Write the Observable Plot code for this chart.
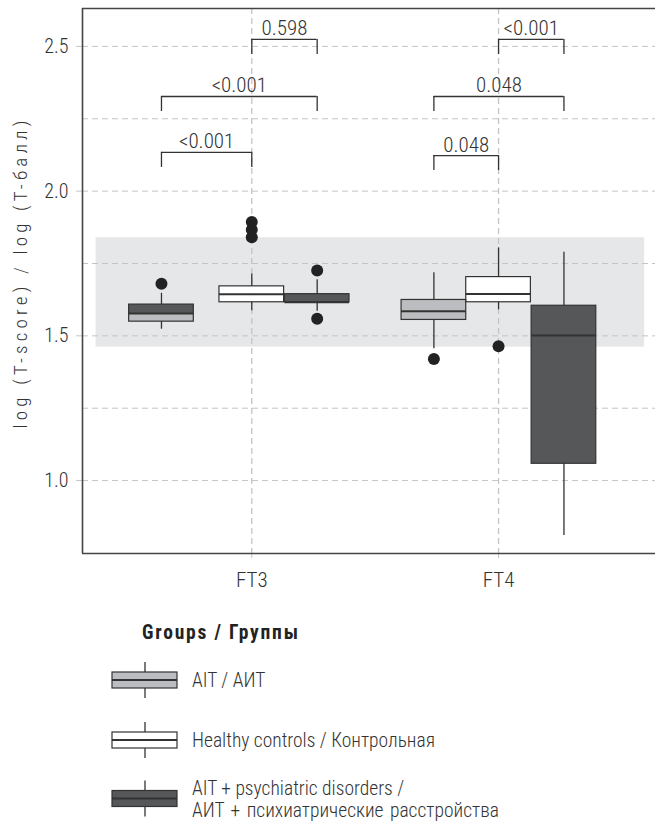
<!DOCTYPE html>
<html><head><meta charset="utf-8">
<script src="https://cdn.jsdelivr.net/npm/d3@7"></script>
<script src="https://cdn.jsdelivr.net/npm/@observablehq/plot@0.6"></script>
<style>
body{margin:0;background:#fff;}
#chart{width:655px;}
#chart svg{display:block;}
</style></head><body><div id="chart"></div>
<script>
// ---- data ----
const categories = ["FT3", "FT4"];
const groups = ["AIT", "HC", "PD"];
const groupLabels = [["AIT / АИТ"], ["Healthy controls / Контрольная"], ["AIT + psychiatric disorders /", "АИТ + психиатрические расстройства"]];
const legendTitle = "Groups / Группы";
const yLabel = "log (T-score) / log (T-балл)";

const boxCategory = ["FT3", "FT3", "FT3", "FT4", "FT4", "FT4"];
const boxGroup    = ["AIT", "HC", "PD", "AIT", "HC", "PD"];
const whiskerLow  = [1.523, 1.587, 1.585, 1.455, 1.590, 0.810];
const q1          = [1.549, 1.616, 1.616, 1.555, 1.616, 1.058];
const median      = [1.577, 1.644, 1.616, 1.585, 1.645, 1.501];
const q3          = [1.608, 1.671, 1.644, 1.624, 1.703, 1.604];
const whiskerHigh = [1.647, 1.714, 1.694, 1.718, 1.804, 1.789];

const outlierCategory = ["FT3", "FT3", "FT3", "FT3", "FT3", "FT3", "FT4", "FT4"];
const outlierGroup    = ["AIT", "HC", "HC", "HC", "PD", "PD", "AIT", "HC"];
const outlierValue    = [1.680, 1.893, 1.867, 1.841, 1.726, 1.559, 1.420, 1.464];

const refRange = [1.461, 1.839];

const cmpCategory = ["FT3", "FT3", "FT3", "FT4", "FT4", "FT4"];
const cmpFrom     = ["HC", "AIT", "AIT", "HC", "AIT", "AIT"];
const cmpTo       = ["PD", "PD", "HC", "PD", "PD", "HC"];
const cmpLevel    = [2.524, 2.327, 2.134, 2.524, 2.327, 2.123];
const cmpLabel    = ["0.598", "<0.001", "<0.001", "<0.001", "0.048", "0.048"];

const yTicks = [1.0, 1.5, 2.0, 2.5];
const yGrid  = [1.0, 1.25, 1.5, 1.75, 2.0, 2.25, 2.5];

// ---- layout / style ----
const FONT = '"Roboto Condensed","Liberation Sans Narrow","DejaVu Sans Condensed",sans-serif';
const fills = {AIT: "#bcbdc0", HC: "#ffffff", PD: "#565759"};
const dodge = {AIT: -0.262, HC: 0.0, PD: 0.265};
const pos = (c, g) => categories.indexOf(c) + 1 + dodge[g] + (c === "FT3" && g === "AIT" ? -0.104 : 0);
const halfW = 0.131;
const legLen = 0.052;
const xDomain = [0.314, 2.636];
const yDomain = [0.748, 2.631];
const bandX = [0.369, 2.592];
const ink = "#333";
const gridColor = "#c4c4c4";
const MAIN_H = 602;

const boxes = boxCategory.map((c, i) => ({c, g: boxGroup[i], lo: whiskerLow[i], q1: q1[i], med: median[i], q3: q3[i], hi: whiskerHigh[i]}));
const outliers = outlierValue.map((v, i) => ({c: outlierCategory[i], g: outlierGroup[i], v}));
const cmps = cmpLabel.map((l, i) => ({c: cmpCategory[i], a: cmpFrom[i], b: cmpTo[i], y: cmpLevel[i], l}));

const plot = Plot.plot({
  width: 655, height: MAIN_H,
  marginLeft: 82, marginRight: 0, marginTop: 8, marginBottom: MAIN_H - 553,
  style: {fontFamily: FONT, fontSize: "20px", fontWeight: 300, color: ink, background: "#fff"},
  x: {domain: xDomain},
  y: {domain: yDomain},
  marks: [
    Plot.rect([refRange], {x1: bandX[0], x2: bandX[1], y1: d => d[0], y2: d => d[1], fill: "#e6e7e8"}),
    Plot.ruleY(yGrid, {stroke: gridColor, strokeDasharray: "6,4", strokeWidth: 1}),
    Plot.ruleX([1, 2], {stroke: gridColor, strokeDasharray: "6,4", strokeWidth: 1.3}),
    Plot.axisY({ticks: yTicks, tickFormat: d3.format(".1f"), tickSize: 6, tickPadding: 8, stroke: gridColor, fill: ink,
      label: null, fontSize: "20px"}),
    Plot.axisX({ticks: [1, 2], tickFormat: d => categories[d - 1], tickSize: 5, tickPadding: 14, stroke: gridColor, fill: ink, label: null, fontSize: "21px"}),
    // whiskers
    Plot.ruleX(boxes, {x: d => pos(d.c, d.g), y1: "lo", y2: "hi", stroke: ink, strokeWidth: 1.3}),
    // box halves
    Plot.rect(boxes, {x1: d => pos(d.c, d.g) - halfW, x2: d => pos(d.c, d.g) + halfW, y1: "q1", y2: "med", fill: d => fills[d.g]}),
    Plot.rect(boxes, {x1: d => pos(d.c, d.g) - halfW, x2: d => pos(d.c, d.g) + halfW, y1: "med", y2: "q3",
      fill: d => (d.c === "FT3" && d.g === "AIT") ? fills.PD : fills[d.g]}),
    Plot.rect(boxes, {x1: d => pos(d.c, d.g) - halfW, x2: d => pos(d.c, d.g) + halfW, y1: "q1", y2: "q3", fill: "none", stroke: ink, strokeWidth: 1.2}),
    Plot.ruleY(boxes, {x1: d => pos(d.c, d.g) - halfW, x2: d => pos(d.c, d.g) + halfW, y: "med", stroke: ink, strokeWidth: 2}),
    // outliers
    Plot.dot(outliers, {x: d => pos(d.c, d.g), y: "v", r: 6, fill: "#222", stroke: "none"}),
    // brackets
    Plot.ruleY(cmps, {x1: d => pos(d.c, d.a), x2: d => pos(d.c, d.b), y: "y", stroke: ink, strokeWidth: 1.3}),
    Plot.ruleX(cmps, {x: d => pos(d.c, d.a), y1: "y", y2: d => d.y - legLen, stroke: ink, strokeWidth: 1.3}),
    Plot.ruleX(cmps, {x: d => pos(d.c, d.b), y1: "y", y2: d => d.y - legLen, stroke: ink, strokeWidth: 1.3}),
    Plot.text(cmps, {x: d => (pos(d.c, d.a) + pos(d.c, d.b)) / 2, y: "y", text: "l", dy: -4, lineAnchor: "bottom", fontSize: 21, fill: ink}),
    // frame: top, left, bottom
    Plot.ruleY([yDomain[1]], {stroke: "#444", strokeWidth: 1.6}),
    Plot.ruleY([yDomain[0]], {stroke: "#444", strokeWidth: 1.6}),
    Plot.ruleX([xDomain[0]], {stroke: "#444", strokeWidth: 1.6})
  ]
});
document.getElementById("chart").appendChild(plot);

// rotated y-axis title
d3.select(plot).append("text")
  .attr("transform", `translate(20, ${(8 + 553) / 2 - 8}) rotate(-90)`)
  .attr("text-anchor", "middle").attr("dy", "0.35em")
  .style("letter-spacing", "4.2px").style("font-size", "19px").style("font-weight", 300)
  .attr("fill", ink).text(yLabel);

// ---- legend ----
const off = MAIN_H - 590;
const L = d3.select("#chart").append("svg").attr("width", 655).attr("height", 822 - MAIN_H)
  .style("font-family", FONT).style("font-size", "19.5px").style("font-weight", 300);
L.append("text").attr("x", 142).attr("y", 42 - off).attr("dy", "0.35em").attr("font-weight", "bold")
  .style("letter-spacing", "1.8px").attr("fill", "#222").text(legendTitle);
const rowY = [90, 150, 208.5];
const textY = [[90], [150], [198, 220]];
groups.forEach((g, i) => {
  const cy = rowY[i] - off;
  const gg = L.append("g");
  gg.append("line").attr("x1", 145).attr("x2", 145).attr("y1", cy - 18).attr("y2", cy + 18).attr("stroke", ink).attr("stroke-width", 1.3);
  gg.append("rect").attr("x", 112).attr("y", cy - 8).attr("width", 65).attr("height", 16).attr("fill", fills[g]).attr("stroke", ink).attr("stroke-width", 1.2);
  gg.append("line").attr("x1", 112).attr("x2", 177).attr("y1", cy).attr("y2", cy).attr("stroke", ink).attr("stroke-width", 2);
  groupLabels[i].forEach((t, j) => {
    gg.append("text").attr("x", 192).attr("y", textY[i][j] - off).attr("dy", "0.35em").attr("fill", ink)
      .style("word-spacing", j === 1 ? "2px" : "0px").text(t);
  });
});
</script></body></html>
